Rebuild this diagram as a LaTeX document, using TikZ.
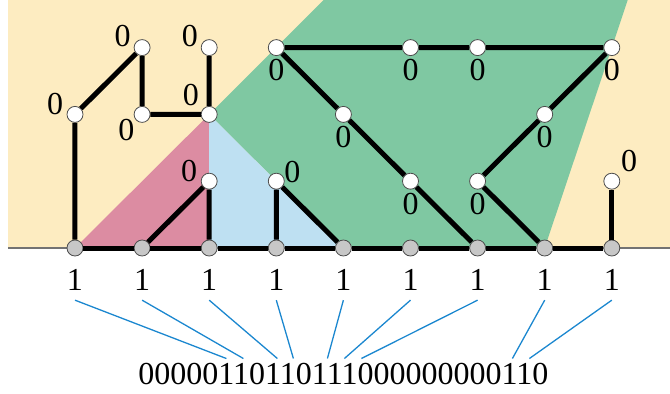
\documentclass[tikz,border=0pt]{standalone}
\usepackage{fontspec}
\setmainfont{Liberation Serif}
\definecolor{sand}{RGB}{253,236,193}
\definecolor{mint}{RGB}{127,200,162}
\definecolor{rose}{RGB}{220,140,162}
\definecolor{sky}{RGB}{190,224,242}
\definecolor{wireblue}{RGB}{27,135,207}
\tikzset{
  tree/.style={line width=5pt},
  open/.style={circle, draw=black!70, line width=.8pt, fill=white, minimum size=16pt, inner sep=0pt},
  leaf/.style={open, fill=black!22},
  digit/.style={font=\fontsize{32}{38}\selectfont, inner sep=1pt},
  lab/.style={digit, anchor=center},
  wire/.style={draw=wireblue, line width=1.3pt}
}
\begin{document}
\begin{tikzpicture}[x=67.1pt, y=66.8pt, label distance=14pt]
    \useasboundingbox (-1.1177,-2.1707) rectangle (8.8674,3.7126);
    \fill[sand] (-0.9985,0) rectangle (8.8674,3.7126);
    \fill[mint] (2,2) -- (3.705,3.7126) -- (8.2375,3.7126) -- (7,0) -- (4,0) -- cycle;
    \fill[rose] (0,0) -- (2,2) -- (2,0) -- cycle;
    \fill[sky] (2,2) -- (4,0) -- (2,0) -- cycle;
    \draw[black!55, line width=1.2pt] (-0.9985,0) -- (8.8674,0);
    \foreach \i in {0,...,8}
      \node (n\i0) [leaf, label={[lab, yshift=-10pt, name=one\i]270:1}] at (\i,0) {};
    \node (n02) [open, label={[lab]153:0}] at (0,2) {};
    \node (n13) [open, label={[lab]150:0}] at (1,3) {};
    \node (n12) [open, label={[lab]225:0}] at (1,2) {};
    \node (n22) [open, label={[lab, xshift=-3pt, yshift=3pt]133:0}] at (2,2) {};
    \node (n23) [open, label={[lab]150:0}] at (2,3) {};
    \node (n21) [open, label={[lab]153:0}] at (2,1) {};
    \node (n31) [open, label={[lab, xshift=-3pt, yshift=-2pt]31:0}] at (3,1) {};
    \node (n33) [open, label={[lab]270:0}] at (3,3) {};
    \node (n42) [open, label={[lab]270:0}] at (4,2) {};
    \node (n51) [open, label={[lab]270:0}] at (5,1) {};
    \node (n53) [open, label={[lab]270:0}] at (5,3) {};
    \node (n63) [open, label={[lab]270:0}] at (6,3) {};
    \node (n61) [open, label={[lab]270:0}] at (6,1) {};
    \node (n72) [open, label={[lab]270:0}] at (7,2) {};
    \node (n83) [open, label={[lab]270:0}] at (8,3) {};
    \node (n81) [open, label={[lab, xshift=3pt, yshift=3pt]50:0}] at (8,1) {};
    \draw[tree] (n00) -- (n10) -- (n20) -- (n30) -- (n40) -- (n50) -- (n60) -- (n70) -- (n80);
    \draw[tree] (n00) -- (n02) -- (n13) -- (n12) -- (n22) -- (n23);
    \draw[tree] (n10) -- (n21) -- (n20);
    \draw[tree] (n30) -- (n31) -- (n40);
    \draw[tree] (n33) -- (n53) -- (n63) -- (n83) -- (n72) -- (n61) -- (n70);
    \draw[tree] (n33) -- (n42) -- (n51) -- (n60);
    \draw[tree] (n80) -- (n81);
    \node (bits) [digit] at (4,-1.879) {00000110110111000000000110};
    \foreach \k/\d in {0/-117,1/-100,2/-66,3/-50,4/-16,5/1,6/18,7/169,8/186}
      \draw[wire] ([yshift=-8pt]one\k.south) -- ([xshift=\d pt, yshift=3pt]bits.north);
  \end{tikzpicture}
\end{document}
